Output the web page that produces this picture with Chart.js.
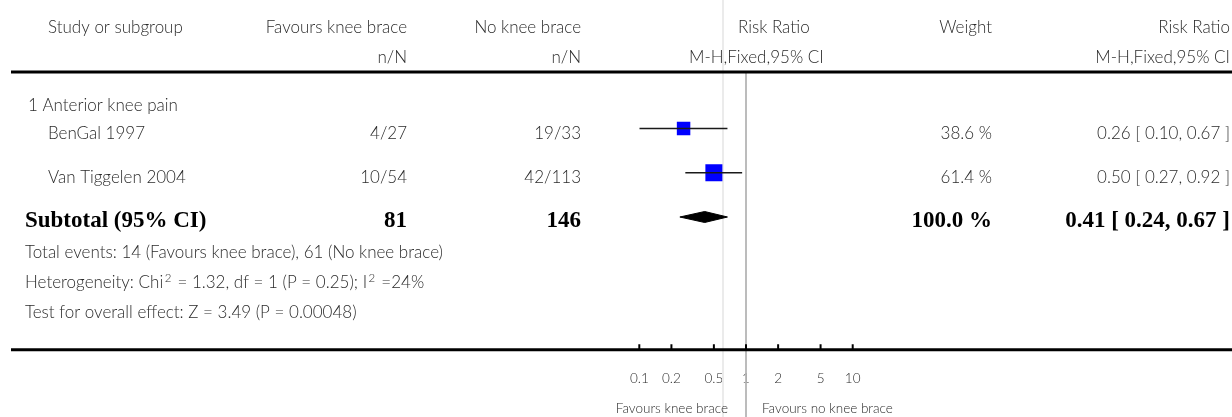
<!DOCTYPE html>
<html>
<head>
<meta charset="utf-8">
<script src="https://cdn.jsdelivr.net/npm/chart.js@4.4.1/dist/chart.umd.min.js"></script>
<style>
  html, body { margin: 0; padding: 0; background: #ffffff; }
  #wrap { position: relative; width: 1232px; height: 417px; }
  canvas { display: block; }
</style>
</head>
<body>
<div id="wrap"><canvas id="forest" width="1232" height="417"></canvas></div>
<script>
// Anterior knee pain: knee brace vs no knee brace
const studies = ['BenGal 1997', 'Van Tiggelen 2004'];
const braceEvents = [4, 10];
const braceTotals = [27, 54];
const controlEvents = [19, 42];
const controlTotals = [33, 113];
const weights = [38.6, 61.4];
const riskRatios = [0.26, 0.50];
const ciLower = [0.10, 0.27];
const ciUpper = [0.67, 0.92];

const pooledRR = 0.41;
const pooledLower = 0.24;
const pooledUpper = 0.67;
const pooledWeight = 100.0;

const tickValues = [0.1, 0.2, 0.5, 1, 2, 5, 10];
const tickLabels = ['0.1', '0.2', '0.5', '1', '2', '5', '10'];

// heterogeneity line, with superscript pieces flagged
const heterogeneityParts = [
  ['Heterogeneity: Chi', false], ['2', true], [' = 1.32, df = 1 (P = 0.25); I', false], ['2', true], [' =24%', false]
];
const overallEffectText = 'Test for overall effect: Z = 3.49 (P = 0.00048)';

// ---- layout / style ----
const BODY_FONT = '300 17px Lato';
const SUP_FONT = '300 11.5px Lato';
const BOLD_FONT = 'bold 23px "Liberation Serif"';
const SMALL_FONT = '300 13.5px Lato';
const TEXT_GREY = '#2b2b2b';
const subtotalRow = studies.length;
const diamondHalf = 0.124;

const fmt2 = v => v.toFixed(2);
const ciText = (r, l, h) => `${fmt2(r)} [ ${fmt2(l)}, ${fmt2(h)} ]`;
const sum = a => a.reduce((s, v) => s + v, 0);

function drawText(ctx, s, x, y, align, font, color) {
  ctx.save();
  ctx.font = font;
  ctx.fillStyle = color;
  ctx.textAlign = align;
  ctx.textBaseline = 'alphabetic';
  ctx.fillText(s, x, y);
  ctx.restore();
}

function drawRich(ctx, parts, x, y) {
  ctx.save();
  ctx.fillStyle = TEXT_GREY;
  ctx.textAlign = 'left';
  ctx.textBaseline = 'alphabetic';
  let cx = x;
  parts.forEach(([s, sup]) => {
    ctx.font = sup ? SUP_FONT : BODY_FONT;
    if (sup) cx += 1.5;
    ctx.fillText(s, cx, sup ? y - 6.5 : y);
    cx += ctx.measureText(s).width + (sup ? 1.5 : 0);
  });
  ctx.restore();
}

function hLine(ctx, x0, x1, y, w, color) {
  ctx.save();
  ctx.strokeStyle = color; ctx.lineWidth = w;
  ctx.beginPath(); ctx.moveTo(x0, y); ctx.lineTo(x1, y); ctx.stroke();
  ctx.restore();
}
function vLine(ctx, x, y0, y1, w, color) {
  ctx.save();
  ctx.strokeStyle = color; ctx.lineWidth = w;
  ctx.beginPath(); ctx.moveTo(x, y0); ctx.lineTo(x, y1); ctx.stroke();
  ctx.restore();
}

const forestTable = {
  id: 'forestTable',
  beforeDatasetsDraw(chart) {
    const { ctx, width, height, scales: { x } } = chart;
    const x1 = x.getPixelForValue(1);
    const axisY = chart.chartArea.bottom;
    // column separator and line of no effect
    vLine(ctx, x1 - 23, 0, height, 2, '#ebebeb');
    vLine(ctx, x1, 72, height, 1.8, '#b5b5b5');
    // header rule and axis rule
    hLine(ctx, 11, width, 72, 2.8, '#000');
    hLine(ctx, 11, width, axisY, 2.8, '#000');
    // tick marks rising from the axis rule
    tickValues.forEach(v => {
      const px = x.getPixelForValue(v);
      vLine(ctx, px, axisY - 5.5, axisY, 2, '#000');
    });
  },
  afterDraw(chart) {
    const { ctx, scales: { x, y } } = chart;
    const x1 = x.getPixelForValue(1);

    // column headers
    drawText(ctx, 'Study or subgroup', 48, 33, 'left', BODY_FONT, TEXT_GREY);
    drawText(ctx, 'Favours knee brace', 407, 33, 'right', BODY_FONT, TEXT_GREY);
    drawText(ctx, 'No knee brace', 581, 33, 'right', BODY_FONT, TEXT_GREY);
    drawText(ctx, 'Risk Ratio', 738, 33, 'left', BODY_FONT, TEXT_GREY);
    drawText(ctx, 'Weight', 992, 33, 'right', BODY_FONT, TEXT_GREY);
    drawText(ctx, 'Risk Ratio', 1230, 33, 'right', BODY_FONT, TEXT_GREY);

    drawText(ctx, 'n/N', 407, 63, 'right', BODY_FONT, TEXT_GREY);
    drawText(ctx, 'n/N', 581, 63, 'right', BODY_FONT, TEXT_GREY);
    drawText(ctx, 'M-H,Fixed,95% CI', 689, 63, 'left', BODY_FONT, TEXT_GREY);
    drawText(ctx, 'M-H,Fixed,95% CI', 1230, 63, 'right', BODY_FONT, TEXT_GREY);

    drawText(ctx, '1 Anterior knee pain', 28, 110.7, 'left', BODY_FONT, TEXT_GREY);

    // study rows
    studies.forEach((name, i) => {
      const by = y.getPixelForValue(i) + 10.3;
      drawText(ctx, name, 48, by, 'left', BODY_FONT, TEXT_GREY);
      drawText(ctx, `${braceEvents[i]}/${braceTotals[i]}`, 407, by, 'right', BODY_FONT, TEXT_GREY);
      drawText(ctx, `${controlEvents[i]}/${controlTotals[i]}`, 581, by, 'right', BODY_FONT, TEXT_GREY);
      drawText(ctx, `${weights[i].toFixed(1)} %`, 992, by, 'right', BODY_FONT, TEXT_GREY);
      drawText(ctx, ciText(riskRatios[i], ciLower[i], ciUpper[i]), 1230, by, 'right', BODY_FONT, TEXT_GREY);
    });

    // subtotal row
    const sy = y.getPixelForValue(subtotalRow) + 10;
    drawText(ctx, 'Subtotal (95% CI)', 25, sy, 'left', BOLD_FONT, '#000');
    drawText(ctx, String(sum(braceTotals)), 407, sy, 'right', BOLD_FONT, '#000');
    drawText(ctx, String(sum(controlTotals)), 581, sy, 'right', BOLD_FONT, '#000');
    drawText(ctx, `${pooledWeight.toFixed(1)} %`, 992, sy, 'right', BOLD_FONT, '#000');
    drawText(ctx, ciText(pooledRR, pooledLower, pooledUpper), 1230, sy, 'right', BOLD_FONT, '#000');

    // summary statistics
    drawText(ctx, `Total events: ${sum(braceEvents)} (Favours knee brace), ${sum(controlEvents)} (No knee brace)`,
      25, 258.3, 'left', BODY_FONT, TEXT_GREY);
    drawRich(ctx, heterogeneityParts, 25, 288.3);
    drawText(ctx, overallEffectText, 25, 318.3, 'left', BODY_FONT, TEXT_GREY);

    // direction labels under the axis
    drawText(ctx, 'Favours knee brace', x1 - 18, 413.3, 'right', SMALL_FONT, TEXT_GREY);
    drawText(ctx, 'Favours no knee brace', x1 + 16, 413.3, 'left', SMALL_FONT, TEXT_GREY);
  }
};

const rowPoints = riskRatios.map((r, i) => ({ x: r, y: i }));

const datasets = [];
// confidence interval whiskers
studies.forEach((s, i) => {
  datasets.push({
    label: s + ' CI',
    data: [{ x: ciLower[i], y: i }, { x: ciUpper[i], y: i }],
    showLine: true,
    borderColor: '#1a1a1a',
    borderWidth: 1.3,
    pointRadius: 0,
    fill: false
  });
});
// weighted study squares
datasets.push({
  label: 'Risk ratio',
  data: rowPoints,
  pointStyle: 'rect',
  pointRadius: weights.map(w => 1.534 * Math.sqrt(w)),
  backgroundColor: '#0000ff',
  borderColor: '#0000ff',
  borderWidth: 0
});
// point estimate cross
datasets.push({
  label: 'Estimate',
  data: rowPoints,
  pointStyle: 'cross',
  pointRadius: 2.5,
  borderColor: '#333333',
  borderWidth: 1
});
// pooled diamond
datasets.push({
  label: 'Subtotal',
  data: [
    { x: pooledLower, y: subtotalRow },
    { x: pooledRR, y: subtotalRow - diamondHalf },
    { x: pooledUpper, y: subtotalRow },
    { x: pooledRR, y: subtotalRow + diamondHalf },
    { x: pooledLower, y: subtotalRow }
  ],
  showLine: true,
  fill: 'shape',
  backgroundColor: '#000000',
  borderColor: '#000000',
  borderWidth: 1,
  pointRadius: 0,
  tension: 0
});

new Chart(document.getElementById('forest'), {
  type: 'scatter',
  data: { datasets },
  options: {
    responsive: false,
    devicePixelRatio: 1,
    animation: false,
    layout: { padding: { left: 639.3, right: 379.3, top: 84.25, bottom: 0 } },
    plugins: { legend: { display: false }, tooltip: { enabled: false } },
    scales: {
      x: {
        type: 'logarithmic',
        position: 'bottom',
        min: 0.1,
        max: 10,
        grid: { display: false, drawTicks: false },
        border: { display: false },
        afterBuildTicks: s => { s.ticks = tickValues.map(v => ({ value: v })); },
        afterFit: s => { s.height = 417 - 349.75; },
        ticks: {
          autoSkip: false,
          maxRotation: 0,
          padding: 21,
          color: TEXT_GREY,
          font: { family: 'Lato', size: 13.5, weight: 300 },
          callback: (v, i) => tickLabels[i]
        }
      },
      y: {
        type: 'linear',
        display: false,
        reverse: true,
        min: -1,
        max: 5
      }
    }
  },
  plugins: [forestTable]
});
</script>
</body>
</html>
